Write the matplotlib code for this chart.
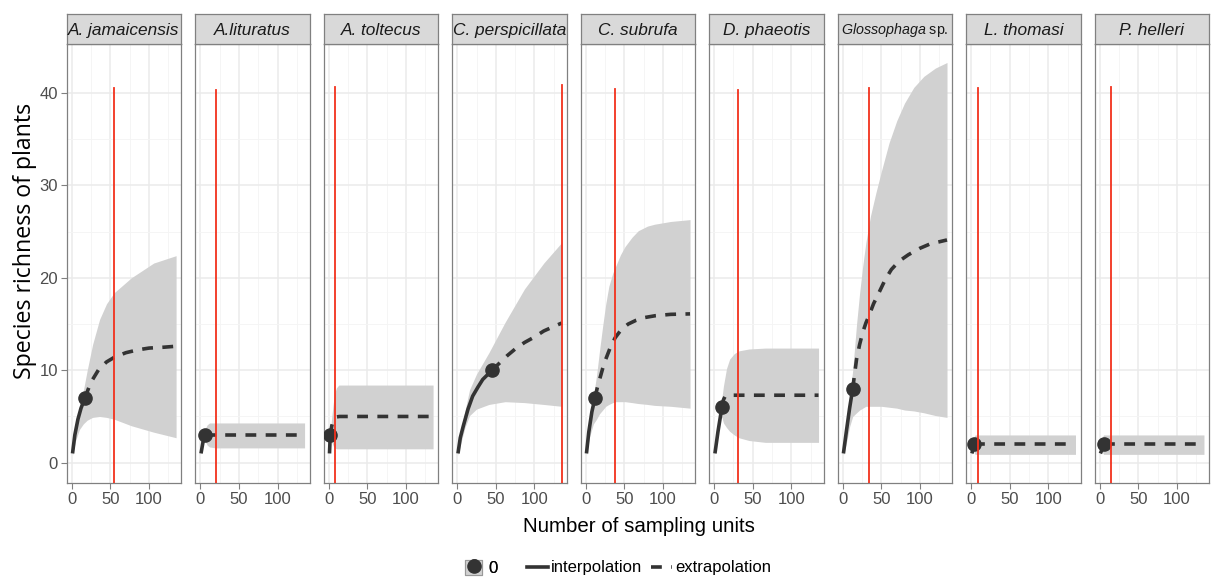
import matplotlib
matplotlib.use("Agg")
import matplotlib.pyplot as plt
from matplotlib.lines import Line2D
from matplotlib.patches import Patch

plt.rcParams['mathtext.fontset'] = 'custom'
plt.rcParams['mathtext.it'] = 'Liberation Sans:italic'
plt.rcParams['mathtext.rm'] = 'Liberation Sans'

species = ["A. jamaicensis", "A.lituratus", "A. toltecus", "C. perspicillata",
           "C. subrufa", "D. phaeotis", "Glossophaga", "L. thomasi", "P. helleri"]

obs_x = [17, 6, 2, 45, 12, 10, 13, 4, 6]
obs_y = [7, 3, 3, 10, 7, 6, 8, 2, 2]

ref_x = [55, 20, 8, 135, 38, 31, 34, 9, 15]
ref_top = [40.5, 40.3, 40.6, 40.9, 40.4, 40.3, 40.5, 40.5, 40.7]

interp_x = [
    [1, 4, 8, 12, 17],
    [1, 3.5, 6],
    [1, 2],
    [1, 4, 8, 14, 20, 27, 33, 39, 45],
    [1, 4, 8, 12],
    [1, 5, 10],
    [1, 5, 9, 13],
    [1, 4],
    [1, 6],
]
interp_y = [
    [1, 3, 4.7, 5.9, 7],
    [1, 2.2, 3],
    [1, 3],
    [1, 2.7, 4.0, 5.8, 7.2, 8.2, 9.0, 9.5, 10],
    [1, 3.3, 5.5, 7],
    [1, 3.4, 6],
    [1, 3.5, 5.9, 8],
    [1, 2],
    [1, 2],
]

extrap_x = [
    [17, 22, 27, 35, 45, 55, 70, 85, 100, 120, 135],
    [6, 20, 50, 100, 135],
    [2, 4, 6, 8, 10, 14, 20, 135],
    [45, 55, 65, 75, 87, 100, 112, 124, 135],
    [12, 15, 18, 22, 26, 32, 38, 46, 55, 65, 76, 90, 110, 135],
    [10, 12, 14, 17, 20, 135],
    [13, 15, 18, 22, 26, 30, 34, 40, 47, 55, 63, 73, 85, 100, 114, 125, 135],
    [4, 135],
    [6, 135],
]
extrap_y = [
    [7, 8.1, 9.0, 10.1, 10.9, 11.4, 11.9, 12.2, 12.4, 12.5, 12.6],
    [3, 3, 3, 3, 3],
    [3, 4.0, 4.6, 4.85, 4.95, 5, 5, 5],
    [10, 10.8, 11.6, 12.3, 13.0, 13.6, 14.25, 14.7, 15.1],
    [7, 8.1, 9.0, 10.2, 11.2, 12.5, 13.5, 14.4, 15.0, 15.4, 15.7, 15.9, 16.05, 16.1],
    [6, 6.8, 7.15, 7.3, 7.3, 7.3],
    [8, 9.3, 11.2, 12.8, 14.1, 15.1, 15.9, 17.2, 18.4, 19.8, 20.9, 21.8, 22.5, 23.2, 23.7, 23.9, 24.1],
    [2, 2],
    [2, 2],
]

band_x = [
    [1, 5, 10, 15, 20, 27, 36, 45, 55, 77, 106, 135],
    [1, 3, 6, 9, 12, 20, 135],
    [1, 2, 4, 6, 8, 10, 13, 20, 135],
    [1, 5, 10, 16, 25, 41, 62, 87, 112, 135],
    [1, 5, 10, 14, 18, 22, 26, 30, 35, 39, 45, 51, 60, 68, 80, 89, 110, 135],
    [1, 5, 8, 10, 12, 16, 20, 26, 32, 45, 66, 135],
    [1, 5, 9, 13, 18, 22, 26, 30, 36, 43, 50, 60, 70, 80, 92, 105, 120, 135],
    [1, 3, 5, 135],
    [1, 3, 5, 135],
]
band_hi = [
    [1.2, 3.5, 5.8, 7.8, 10.0, 12.8, 15.5, 17.2, 18.4, 20.0, 21.6, 22.4],
    [1.1, 2.3, 3.6, 4.1, 4.3, 4.3, 4.3],
    [1.1, 3.2, 5.0, 6.5, 7.6, 8.1, 8.4, 8.4, 8.4],
    [1.2, 3.7, 5.6, 7.9, 9.6, 11.9, 15.2, 18.8, 21.6, 23.8],
    [1.2, 4.0, 7.2, 9.4, 12.2, 14.8, 17.2, 19.1, 20.5, 21.3, 22.5, 23.4, 24.4, 25.1, 25.6, 25.8, 26.1, 26.3],
    [1.1, 3.6, 5.6, 7.0, 8.3, 10.2, 11.2, 11.8, 12.1, 12.3, 12.4, 12.4],
    [1.2, 4.0, 7.0, 10.0, 15.0, 18.4, 21.3, 23.8, 26.7, 29.2, 31.5, 34.6, 37.0, 38.9, 40.6, 41.8, 42.7, 43.3],
    [1.1, 2.6, 3.0, 3.0],
    [1.1, 2.6, 3.0, 3.0],
]
band_lo = [
    [0.8, 2.4, 3.6, 4.2, 4.6, 4.9, 5.0, 4.9, 4.7, 4.0, 3.3, 2.7],
    [0.9, 2.0, 2.4, 1.9, 1.7, 1.6, 1.6],
    [0.9, 2.8, 2.2, 1.8, 1.6, 1.5, 1.5, 1.5, 1.5],
    [0.8, 2.2, 3.8, 5.1, 5.8, 6.3, 6.6, 6.5, 6.3, 6.1],
    [0.8, 2.8, 4.2, 4.7, 5.3, 5.7, 6.1, 6.3, 6.5, 6.6, 6.6, 6.6, 6.5, 6.4, 6.3, 6.2, 6.1, 5.9],
    [0.9, 3.0, 4.8, 4.9, 4.3, 3.8, 3.4, 3.0, 2.7, 2.4, 2.2, 2.2],
    [0.8, 2.2, 3.9, 5.0, 5.4, 5.7, 5.9, 6.1, 6.1, 6.1, 6.1, 6.0, 5.9, 5.7, 5.6, 5.4, 5.1, 4.9],
    [0.9, 1.3, 0.9, 0.9],
    [0.9, 1.3, 0.9, 0.9],
]

x_ticks = [0, 50, 100]
y_ticks = [0, 10, 20, 30, 40]

LINE_C = '#333333'
BAND_C = '#d1d1d1'
GRID_MAJ = '#ebebeb'
GRID_MIN = '#f4f4f4'
BORDER = '#808080'
TICK_TXT = '#4d4d4d'

fig = plt.figure(figsize=(12.13, 5.83), dpi=100)
left, right, bottom, top = 0.0552, 0.9967, 0.1715, 0.9245
strip_top = 0.976
n = len(species)
gap_frac = 0.0118
w = (right - left - gap_frac * (n - 1)) / n

for i, sp in enumerate(species):
    x0 = left + i * (w + gap_frac)
    ax = fig.add_axes([x0, bottom, w, top - bottom])
    ax.set_xlim(-6.2, 141.5)
    ax.set_ylim(-2.2, 45.3)
    ax.set_xticks(x_ticks)
    ax.set_xticks([25, 75, 125], minor=True)
    ax.set_yticks(y_ticks)
    ax.set_yticks([5, 15, 25, 35], minor=True)
    ax.grid(True, which='major', color=GRID_MAJ, lw=1.1, zorder=0)
    ax.grid(True, which='minor', color=GRID_MIN, lw=0.6, zorder=0)
    ax.set_axisbelow(True)
    for s in ax.spines.values():
        s.set_color(BORDER)
        s.set_linewidth(0.9)
    ax.tick_params(which='minor', length=0)
    ax.tick_params(which='major', colors=BORDER, labelcolor=TICK_TXT,
                   labelsize=12, length=4, width=0.8, pad=2.5)
    for lab in ax.get_xticklabels() + ax.get_yticklabels():
        lab.set_family('Liberation Sans')
    if i != 0:
        ax.tick_params(axis='y', left=False, labelleft=False)

    ax.fill_between(band_x[i], band_lo[i], band_hi[i], color=BAND_C, lw=0, zorder=1)
    ax.plot(interp_x[i], interp_y[i], color=LINE_C, lw=2.6, solid_capstyle='butt', zorder=3)
    ax.plot(extrap_x[i], extrap_y[i], color=LINE_C, lw=2.6, ls=(0, (3.0, 2.6)),
            dash_capstyle='butt', zorder=3)
    ax.plot([obs_x[i]], [obs_y[i]], 'o', color=LINE_C, ms=9.5, zorder=4)
    ax.plot([ref_x[i], ref_x[i]], [-2.2, ref_top[i]], color='#f2311d', lw=1.3, zorder=5)

    sax = fig.add_axes([x0, top, w, strip_top - top])
    sax.set_facecolor('#d9d9d9')
    sax.set_xticks([])
    sax.set_yticks([])
    for s in sax.spines.values():
        s.set_color(BORDER)
        s.set_linewidth(0.9)
    if sp == "Glossophaga":
        sax.text(0.5, 0.46, r"$\it{Glossophaga}$ sp.", ha='center', va='center',
                 fontsize=10.3, family='Liberation Sans', color='#1a1a1a')
    else:
        sax.text(0.5, 0.46, sp, ha='center', va='center', fontsize=12.4,
                 family='Liberation Sans', style='italic', color='#1a1a1a')

fig.text(0.0205, 0.587, "Species richness of plants", rotation=90,
         ha='center', va='center', fontsize=16.7, family='Open Sans')
fig.text(0.527, 0.097, "Number of sampling units", ha='center', va='center',
         fontsize=14.8, family='Liberation Sans')

leg_prop = {'family': 'Liberation Sans', 'size': 12}
h0 = [(Patch(facecolor=BAND_C, edgecolor='#999999', lw=0.8),
       Line2D([], [], marker='o', color=LINE_C, ls='none', ms=9.5))]
leg1 = fig.legend(h0, ["0"], loc='center', bbox_to_anchor=(0.397, 0.026),
                  frameon=False, handlelength=1.0, handleheight=1.0,
                  handletextpad=0.4, prop=leg_prop)
fig.add_artist(leg1)
h1 = [Line2D([], [], color=LINE_C, lw=2.6),
      Line2D([], [], color=LINE_C, lw=2.6, ls=(0, (3.0, 2.6)))]
fig.legend(h1, ["interpolation", "extrapolation"], loc='center',
           bbox_to_anchor=(0.535, 0.026), ncol=2, frameon=False,
           handlelength=1.25, handletextpad=0.2, columnspacing=0.5, prop=leg_prop)

fig.savefig("out.png", dpi=100)
